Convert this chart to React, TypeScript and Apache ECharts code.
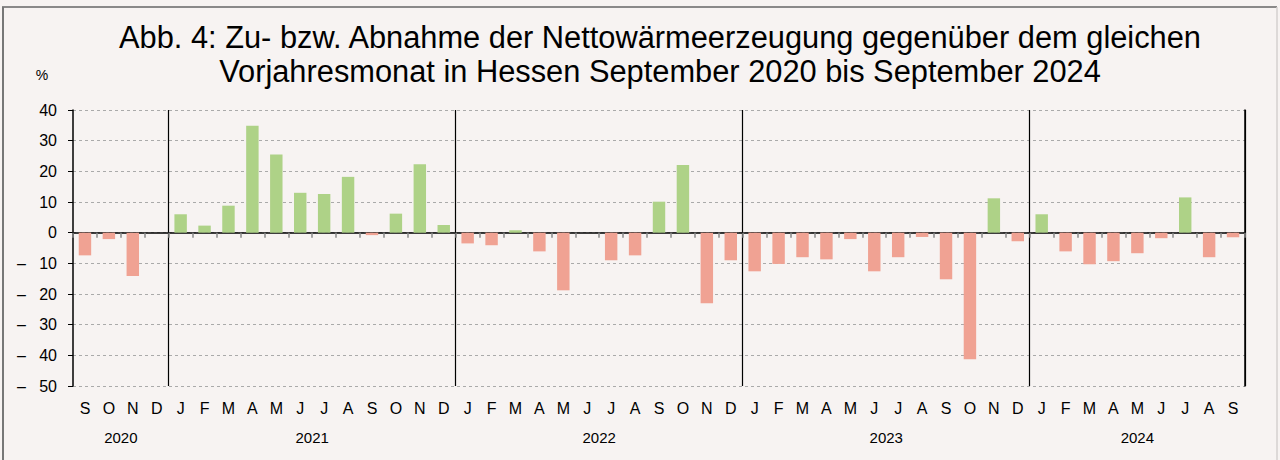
import React, { useEffect, useRef } from "react";
import * as echarts from "echarts";

const years = ["2020", "2021", "2022", "2023", "2024"];
const yearMonths = [
  ["S", "O", "N", "D"],
  ["J", "F", "M", "A", "M", "J", "J", "A", "S", "O", "N", "D"],
  ["J", "F", "M", "A", "M", "J", "J", "A", "S", "O", "N", "D"],
  ["J", "F", "M", "A", "M", "J", "J", "A", "S", "O", "N", "D"],
  ["J", "F", "M", "A", "M", "J", "J", "A", "S"],
];
const values2020 = [-7.4, -2.1, -14.1, 0];
const values2021 = [6.0, 2.3, 8.8, 34.9, 25.5, 13.0, 12.6, 18.2, -0.8, 6.2, 22.3, 2.5];
const values2022 = [-3.5, -4.1, 0.8, -6.1, -18.8, 0, -9.0, -7.4, 10.1, 22.1, -23.0, -9.0];
const values2023 = [-12.6, -10.2, -8.0, -8.7, -2.1, -12.6, -8.0, -1.4, -15.2, -41.3, 11.2, -2.8];
const values2024 = [6.0, -6.1, -10.3, -9.3, -6.7, -1.8, 11.5, -8.0, -1.5];
const yTicks = { min: -50, max: 40, step: 10 };
const titleText =
  "Abb. 4: Zu- bzw. Abnahme der Nettowärmeerzeugung gegenüber dem gleichen\nVorjahresmonat in Hessen September 2020 bis September 2024";
const unitLabel = "%";

const GREEN = "#aed287";
const RED = "#f0a293";
const FONT = "Arial, 'Liberation Sans', Helvetica, sans-serif";

export default function App() {
  const ref = useRef<HTMLDivElement>(null);
  useEffect(() => {
    if (!ref.current) return;
    const chart = echarts.init(ref.current, undefined, { renderer: "svg" });
    const months = yearMonths.flat();
    const values = [...values2020, ...values2021, ...values2022, ...values2023, ...values2024];
    const starts: number[] = [];
    const centres: Record<string, string> = {};
    let acc = 0;
    yearMonths.forEach((m, i) => {
      if (i > 0) starts.push(acc);
      centres[String(acc + m.length / 2)] = years[i];
      acc += m.length;
    });
    const total = acc;

    chart.setOption({
      animation: false,
      backgroundColor: "#f7f3f2",
      textStyle: { fontFamily: FONT },
      title: {
        text: titleText,
        left: 655,
        top: 15,
        textAlign: "center",
        textStyle: {
          fontFamily: FONT,
          fontSize: 30.8,
          fontWeight: "normal",
          color: "#000",
          lineHeight: 34,
        },
      },
      graphic: [
        { type: "line", shape: { x1: 2, y1: 7, x2: 1277, y2: 7 }, style: { stroke: "#666", lineWidth: 1.5 } },
        { type: "line", shape: { x1: 3, y1: 7, x2: 3, y2: 460 }, style: { stroke: "#777", lineWidth: 2 } },
        { type: "line", shape: { x1: 1277, y1: 7, x2: 1277, y2: 460 }, style: { stroke: "#d4d0cf", lineWidth: 1.5 } },
        {
          type: "text",
          x: 42,
          y: 75,
          style: { text: unitLabel, fontFamily: FONT, fontSize: 14, fill: "#000", textAlign: "center", textVerticalAlign: "middle" },
        },
      ],
      grid: { left: 73, right: 35, top: 110, bottom: 74 },
      xAxis: [
        {
          type: "category",
          data: months,
          boundaryGap: true,
          axisLine: { onZero: true, lineStyle: { color: "#000", width: 1.5 } },
          axisTick: { show: true, interval: 0, length: 5, lineStyle: { color: "#888", width: 1.5 } },
          axisLabel: { show: false },
          splitLine: {
            show: true,
            interval: (i: number) => starts.includes(i),
            lineStyle: { color: "#000", width: 1.2 },
          },
        },
        {
          type: "category",
          data: months,
          position: "bottom",
          boundaryGap: true,
          axisLine: { show: false, onZero: false },
          axisTick: { show: false },
          splitLine: { show: false },
          axisLabel: { show: true, interval: 0, fontSize: 16, color: "#000", margin: 14, fontFamily: FONT },
        },
        {
          type: "value",
          min: 0,
          max: total,
          interval: 0.5,
          position: "bottom",
          axisLine: { show: false, onZero: false },
          axisTick: { show: false },
          splitLine: { show: false },
          axisLabel: {
            show: true,
            fontSize: 15,
            color: "#000",
            margin: 44,
            fontFamily: FONT,
            formatter: (v: number) => centres[String(v)] ?? "",
          },
        },
      ],
      yAxis: [
        {
          type: "value",
          min: yTicks.min,
          max: yTicks.max,
          interval: yTicks.step,
          axisLine: { show: true, lineStyle: { color: "#000", width: 1.5 } },
          axisTick: { show: true, length: 5, lineStyle: { color: "#000" } },
          axisLabel: {
            fontSize: 16,
            color: "#000",
            margin: 16,
            fontFamily: FONT,
            formatter: (v: number) => (v < 0 ? "–   " + Math.abs(v) : String(v)),
          },
          splitLine: { show: true, lineStyle: { color: "#aaa", type: [3, 3], width: 1 } },
        },
        {
          type: "value",
          position: "right",
          min: yTicks.min,
          max: yTicks.max,
          interval: yTicks.step,
          axisLine: { show: true, lineStyle: { color: "#000", width: 1.5 } },
          axisTick: { show: false },
          axisLabel: { show: false },
          splitLine: { show: false },
        },
      ],
      series: [
        {
          type: "bar",
          xAxisIndex: 0,
          yAxisIndex: 0,
          barWidth: "52%",
          data: values,
          itemStyle: {
            color: (p: any) => (p.value >= 0 ? GREEN : RED),
          },
        },
      ],
    });
    return () => chart.dispose();
  }, []);
  return (
    <div
      ref={ref}
      style={{ position: "absolute", left: 0, top: 0, width: 1280, height: 460 }}
    />
  );
}
